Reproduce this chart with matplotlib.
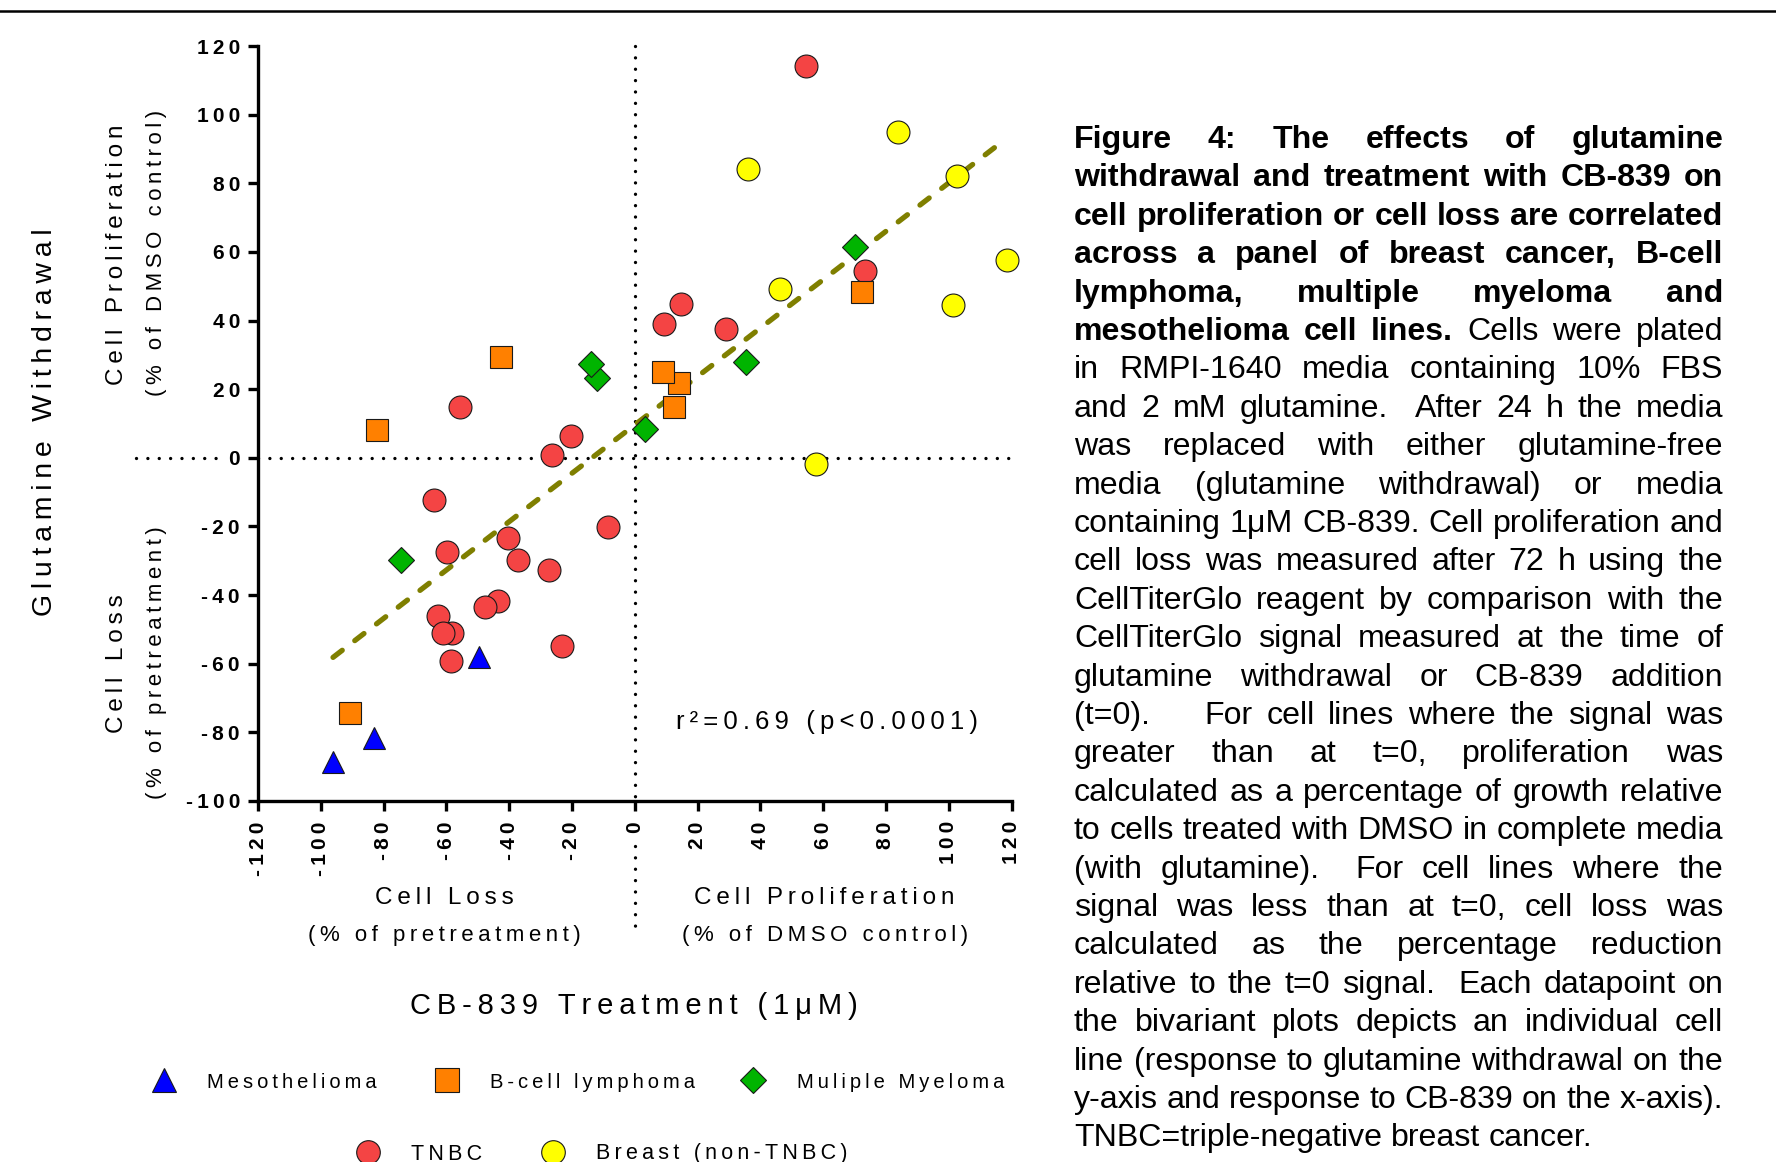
import numpy as np
import matplotlib
matplotlib.use("Agg")
import matplotlib.pyplot as plt
from matplotlib.lines import Line2D

# ---------------- data (x = CB-839 response, y = glutamine withdrawal response) ----------------
tnbc_x = [54.7, 73.4, 14.6, 9.3, 29.2, -55.6, -20.3, -26.3, -63.8, -8.6, -40.5, -59.8,
          -37.3, -27.4, -43.5, -47.8, -62.6, -58.1, -61.1, -23.2, -58.6]
tnbc_y = [114.2, 54.5, 44.8, 39.1, 37.4, 14.7, 6.4, 0.8, -12.2, -20.2, -23.3, -27.5,
          -29.7, -32.7, -41.6, -43.5, -46.2, -51.0, -51.0, -54.8, -59.1]

breast_x = [83.8, 36.0, 102.6, 118.5, 46.4, 101.4, 57.8]
breast_y = [94.9, 84.3, 82.1, 57.6, 49.3, 44.5, -1.9]

bcell_x = [72.5, 14.1, 9.1, 12.4, -42.6, -82.0, -90.8]
bcell_y = [48.3, 21.7, 25.0, 14.9, 29.4, 8.1, -74.4]

myeloma_x = [70.3, 35.4, -12.0, -14.0, 3.3, -74.5]
myeloma_y = [61.3, 27.8, 23.3, 27.2, 8.3, -29.9]

meso_x = [-96.1, -83.1, -49.5]
meso_y = [-88.7, -81.5, -57.9]

# linear fit as drawn in the figure
fit_slope = 0.705
fit_intercept = 9.6
fit_x_range = [-96.1, 117.0]

series_names = ["TNBC", "Breast (non-TNBC)", "B-cell lymphoma", "Muliple Myeloma", "Mesothelioma"]
series_colors = ["#F44444", "#FFFF00", "#FF8000", "#00B400", "#0000FF"]
series_markers = ["o", "o", "s", "D", "^"]

xticks = [-120, -100, -80, -60, -40, -20, 0, 20, 40, 60, 80, 100, 120]
yticks = [-100, -80, -60, -40, -20, 0, 20, 40, 60, 80, 100, 120]
r2_label = "r²=0.69 (p<0.0001)"

caption = [
    ("Figure 4: The effects of glutamine", ""),
    ("withdrawal and treatment with CB-839 on", ""),
    ("cell proliferation or cell loss are correlated", ""),
    ("across a panel of breast cancer, B-cell", ""),
    ("lymphoma, multiple myeloma and", ""),
    ("mesothelioma cell lines.", "Cells were plated"),
    ("", "in RMPI-1640 media containing 10% FBS"),
    ("", "and 2 mM glutamine.  After 24 h the media"),
    ("", "was replaced with either glutamine-free"),
    ("", "media (glutamine withdrawal) or media"),
    ("", "containing 1μM CB-839. Cell proliferation and"),
    ("", "cell loss was measured after 72 h using the"),
    ("", "CellTiterGlo reagent by comparison with the"),
    ("", "CellTiterGlo signal measured at the time of"),
    ("", "glutamine withdrawal or CB-839 addition"),
    ("", "(t=0).    For cell lines where the signal was"),
    ("", "greater than at t=0, proliferation was"),
    ("", "calculated as a percentage of growth relative"),
    ("", "to cells treated with DMSO in complete media"),
    ("", "(with glutamine).  For cell lines where the"),
    ("", "signal was less than at t=0, cell loss was"),
    ("", "calculated as the percentage reduction"),
    ("", "relative to the t=0 signal.  Each datapoint on"),
    ("", "the bivariant plots depicts an individual cell"),
    ("", "line (response to glutamine withdrawal on the"),
    ("", "y-axis and response to CB-839 on the x-axis)."),
    ("", "TNBC=triple-negative breast cancer."),
]

# ---------------- setup ----------------
plt.rcParams["font.family"] = ["Liberation Sans", "DejaVu Sans"]
W, H = 1776, 1162
fig = plt.figure(figsize=(W / 100, H / 100), dpi=100)
fig.patch.set_facecolor("white")


def fx(px):
    return px / W


def fy(py):
    return 1 - py / H


TS = "\u2009"


def sp(s):
    return TS.join(list(s))


# ---------------- axes ----------------
ax = fig.add_axes([fx(258), fy(801), (1011.5 - 258) / W, (801 - 46) / H])
ax.set_xlim(-120, 120)
ax.set_ylim(-100, 120)
ax.patch.set_alpha(0)
for s in ["top", "right"]:
    ax.spines[s].set_visible(False)
for s in ["left", "bottom"]:
    ax.spines[s].set_linewidth(2.4)
ax.tick_params(width=2.4, length=7.5, direction="out", color="black")
ax.tick_params(axis="y", pad=5.5)
ax.tick_params(axis="x", pad=7)
ax.set_xticks(xticks)
ax.set_xticklabels([sp(str(v)) for v in xticks], rotation=90, fontweight="bold", fontsize=15)
ax.set_yticks(yticks)
ax.set_yticklabels([sp(str(v)) for v in yticks], fontweight="bold", fontsize=15)

dot_kw = dict(color="black", lw=2.4, dash_capstyle="round", linestyle=(0, (0.01, 3.4)),
              clip_on=False, zorder=1)
ax.plot([-120, 120], [0, 0], **dot_kw)
ax.plot([-159, -132], [0, 0], **dot_kw)
ax.plot([0, 0], [120, -100], **dot_kw)
ax.plot([0, 0], [-113, -137], **dot_kw)

xl = np.array(fit_x_range)
ax.plot(xl, fit_slope * xl + fit_intercept, color="#7F7F00", lw=3.8, linestyle=(0, (2.2, 3.0)),
        dash_capstyle="round", zorder=2)

series = [(tnbc_x, tnbc_y), (breast_x, breast_y), (bcell_x, bcell_y),
          (myeloma_x, myeloma_y), (meso_x, meso_y)]
sizes = {"o": 16.5, "s": 16.5, "D": 12.8, "^": 16.5}
for (sx, sy), c, m in zip(series, series_colors, series_markers):
    for xv, yv in zip(sx, sy):
        ax.plot([xv], [yv], ls="none", marker=m, ms=sizes[m], mfc=c, mec="#1a1a1a",
                mew=0.8, zorder=3, clip_on=False)

# ---------------- axis titles ----------------
fig.text(fx(45), fy(422), sp("Glutamine Withdrawal"), rotation=90, ha="center", va="center",
         fontsize=20.5)
fig.text(fx(117), fy(255), sp("Cell Proliferation"), rotation=90, ha="center", va="center",
         fontsize=17.5)
fig.text(fx(156), fy(253), sp("(% of DMSO control)"), rotation=90, ha="center", va="center",
         fontsize=16)
fig.text(fx(117), fy(664), sp("Cell Loss"), rotation=90, ha="center", va="center", fontsize=17.5)
fig.text(fx(156), fy(663), sp("(% of pretreatment)"), rotation=90, ha="center", va="center",
         fontsize=16)

fig.text(fx(444), fy(898), sp("Cell Loss"), ha="center", va="center", fontsize=17.5)
fig.text(fx(444), fy(936), sp("(% of pretreatment)"), ha="center", va="center", fontsize=16)
fig.text(fx(824), fy(898), sp("Cell Proliferation"), ha="center", va="center", fontsize=17.5)
fig.text(fx(825), fy(936), sp("(% of DMSO control)"), ha="center", va="center", fontsize=16)
fig.text(fx(634), fy(1006), sp("CB-839 Treatment (1μM)"), ha="center", va="center", fontsize=21)

fig.text(fx(676), fy(722), sp(r2_label), ha="left", va="center", fontsize=18.5)

# ---------------- legend ----------------
legend_pos = {
    "Mesothelioma": ((164, 1080), 207, 14.5),
    "B-cell lymphoma": ((447, 1080), 490, 14.5),
    "Muliple Myeloma": ((753, 1080), 797, 14.5),
    "TNBC": ((368, 1152), 411, 15.5),
    "Breast (non-TNBC)": ((553, 1152), 596, 15.5),
}
for name, c, m in zip(series_names, series_colors, series_markers):
    (mx, my), tx, fs = legend_pos[name]
    fig.add_artist(Line2D([fx(mx)], [fy(my)], transform=fig.transFigure, ls="none", marker=m,
                          ms=sizes[m] + 0.5, mfc=c, mec="#1a1a1a", mew=0.8))
    fig.text(fx(tx), fy(my + 2), sp(name), ha="left", va="center", fontsize=fs)

# top rule
fig.add_artist(Line2D([0, 1], [fy(11), fy(11)], transform=fig.transFigure, color="black", lw=1.8))

# ---------------- caption (justified) ----------------
X0, X1 = 1074, 1723
BASE0, PITCH = 148, 38.4
cap_family = "Liberation Sans"
renderer = fig.canvas.get_renderer()


def measure(word, bold, size):
    if word == "":
        return 0.0
    t = fig.text(0, 0, word, fontsize=size, fontweight="bold" if bold else "normal",
                 family=[cap_family, "DejaVu Sans"])
    w = t.get_window_extent(renderer).width
    t.remove()
    return w


def tokens_of(line):
    toks = []
    b, r = line
    if b:
        toks += [(w, True) for w in b.split(" ")]
    if r:
        toks += [(w, False) for w in r.split(" ")]
    return toks


size = 20.0
spc0 = measure("a a", False, size) - measure("aa", False, size)
worst = 0
for line in caption[:-1]:
    toks = tokens_of(line)
    nat = sum(measure(w, bb, size) for w, bb in toks) + (len(toks) - 1) * spc0 * 0.95
    worst = max(worst, nat)
size = size * (X1 - X0) / worst

spc = measure("a a", False, size) - measure("aa", False, size)
for i, line in enumerate(caption):
    toks = tokens_of(line)
    widths = [measure(w, bb, size) for w, bb in toks]
    if i == len(caption) - 1:
        gap = spc
    else:
        gap = (X1 - X0 - sum(widths)) / max(len(toks) - 1, 1)
    x = X0
    y = BASE0 + i * PITCH
    for (w, bb), ww in zip(toks, widths):
        if w:
            fig.text(fx(x), fy(y), w, fontsize=size, fontweight="bold" if bb else "normal",
                     family=[cap_family, "DejaVu Sans"], ha="left", va="baseline")
        x += ww + gap

fig.savefig("out.png", dpi=100, facecolor="white")
